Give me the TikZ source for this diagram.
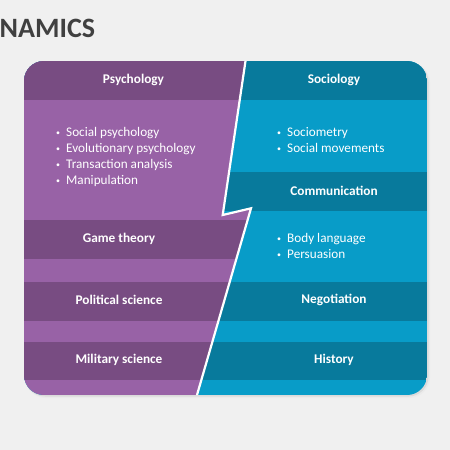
\documentclass[tikz,border=0pt]{standalone}
\usepackage{fontspec}
\setmainfont{Carlito}
\usepackage{tikz}

\definecolor{bggray}{RGB}{240,240,240}
\definecolor{titlegray}{RGB}{64,64,64}
\definecolor{psydark}{RGB}{120,76,130}
\definecolor{psylight}{RGB}{152,98,166}
\definecolor{socdark}{RGB}{8,122,156}
\definecolor{soclight}{RGB}{8,156,200}

\newcommand{\dotitem}{\makebox[10pt][l]{\raisebox{1pt}{\scalebox{0.6}{\textbullet}}}}

\tikzset{
  heading/.style={text=white,font=\bfseries\fontsize{13.3}{15}\selectfont},
  itemlist/.style={text=white,font=\fontsize{13.2}{16.2}\selectfont,align=left,anchor=north west,inner sep=0pt}
}

\begin{document}
\begin{tikzpicture}[x=1pt,y=-1pt]
\fill[bggray] (0,0) rectangle (450,450);
\useasboundingbox (0,0) rectangle (450,450);

\node[titlegray,font=\bfseries\fontsize{28}{30}\selectfont,anchor=base west,inner sep=0pt] (title) at (-0.5,37) {NAMICS};

% soft shadow
\fill[black!8,rounded corners=21pt] (25,62) rectangle (430,398);
\fill[black!14,rounded corners=20pt] (25,62) rectangle (428.5,396.5);

\begin{scope}
\clip[rounded corners=20pt] (24,61) rectangle (427,395);
\fill[soclight] (24,61) rectangle (427,395);
\fill[socdark] (24,61) rectangle (427,100);
\fill[socdark] (24,172) rectangle (427,211);
\fill[socdark] (24,282) rectangle (427,321);
\fill[socdark] (24,342) rectangle (427,380);
\begin{scope}
\clip (24,61) -- (245.5,61) -- (222.7,215) -- (251,208.3) -- (197,395) -- (24,395) -- cycle;
\fill[psylight] (24,61) rectangle (427,395);
\fill[psydark] (24,61) rectangle (427,100);
\fill[psydark] (24,220) rectangle (427,259);
\fill[psydark] (24,282) rectangle (427,321);
\fill[psydark] (24,342) rectangle (427,380);
\end{scope}
\draw[white,line width=2.2pt,line join=miter] (246.4,55) -- (245.5,61) -- (222.7,215) -- (251,208.3) -- (197,395) -- (195.6,400);
\end{scope}

% left column
\node[heading] (psy) at (133.5,80) {Psychology};
\node[itemlist] (psylist) at (56,127) {\dotitem Social psychology\\ \dotitem Evolutionary psychology\\ \dotitem Transaction analysis\\ \dotitem Manipulation};
\node[heading] (game) at (119,239) {Game theory};
\node[heading] (pol) at (119,300) {Political science};
\node[heading] (mil) at (119,360) {Military science};

% right column
\node[heading] (soc) at (334,80) {Sociology};
\node[itemlist] (soclist) at (277,127) {\dotitem Sociometry\\ \dotitem Social movements};
\node[heading] (comm) at (334,191) {Communication};
\node[itemlist] (commlist) at (277,233) {\dotitem Body language\\ \dotitem Persuasion};
\node[heading] (nego) at (334,300) {Negotiation};
\node[heading] (hist) at (334,360) {History};

\end{tikzpicture}
\end{document}
